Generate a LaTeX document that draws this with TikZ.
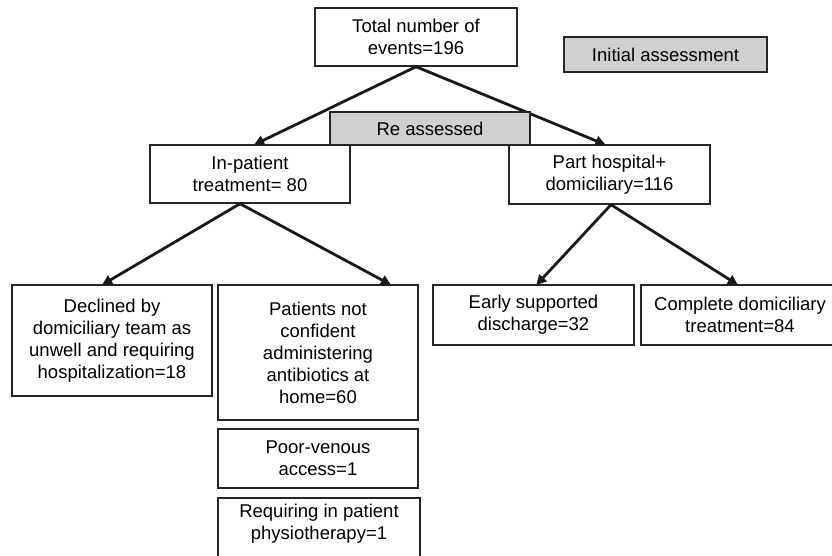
\documentclass[tikz,border=0pt]{standalone}
\usepackage{fontspec}
\setmainfont{Liberation Sans}
\usetikzlibrary{arrows.meta}
\definecolor{boxgrey}{RGB}{208,208,208}
\begin{document}
\begin{tikzpicture}[x=1pt,y=-1pt,
  every node/.style={font=\fontsize{18.5}{22}\selectfont, align=center, inner sep=0pt},
  box/.style={draw=black!85, line width=1.4pt, minimum width=#1, rectangle},
  greybox/.style={draw=black!85, line width=1.8pt, fill=boxgrey, minimum width=#1, rectangle},
  arr/.style={line width=2.8pt, black!90, -{Triangle[length=10pt,width=10pt]}, shorten >=-1pt}
]
\useasboundingbox (0,0) rectangle (832,555);
\clip (0,0) rectangle (832,555);
% nodes
\node[box=202pt, minimum height=58pt] (top) at (416,37) {Total number of\\events=196};
\node[greybox=203pt, minimum height=35pt] (init) at (665.5,54.5) {Initial assessment};
\node[box=200pt, minimum height=58pt] (inp) at (250,174) {In-patient\\treatment= 80};
\node[box=201pt, minimum height=59pt] (part) at (609.5,174.5) {Part hospital+\\domiciliary=116};
\node[box=200pt, minimum height=111pt] (decl) at (112,340.5) {Declined by\\domiciliary team as\\unwell and requiring\\hospitalization=18};
\node[box=200pt, minimum height=135pt] (pat) at (318,352.5) {Patients not\\confident\\administering\\antibiotics at\\home=60};
\node[box=200pt, minimum height=59pt] (poor) at (318,458.5) {Poor-venous\\access=1};
\node[box=202pt, minimum height=62pt] (req) at (319,529) {};
\node (reqtext) at (319,524) {Requiring in patient\\physiotherapy=1};
\node[box=201pt, minimum height=60pt] (early) at (533.5,315) {Early supported\\discharge=32};
\node[box=198pt, minimum height=60pt] (comp) at (740,315) {Complete domiciliary\\treatment=84};
% connectors
\draw[arr] (top.south) -- ([xshift=5pt]inp.north);
\draw[arr] (top.south) -- ([xshift=-5pt]part.north);
\draw[arr] ([xshift=-10pt]inp.south) -- ([xshift=-9pt]decl.north);
\draw[arr] ([xshift=-10pt]inp.south) -- ([xshift=72pt]pat.north);
\draw[arr] ([xshift=1.5pt]part.south) -- ([xshift=3.5pt]early.north);
\draw[arr] ([xshift=1.5pt]part.south) -- ([xshift=-3pt]comp.north);
% re-assessed box on top of lines
\node[greybox=200pt, minimum height=33pt] (re) at (430,128.5) {Re assessed};
\end{tikzpicture}
\end{document}
